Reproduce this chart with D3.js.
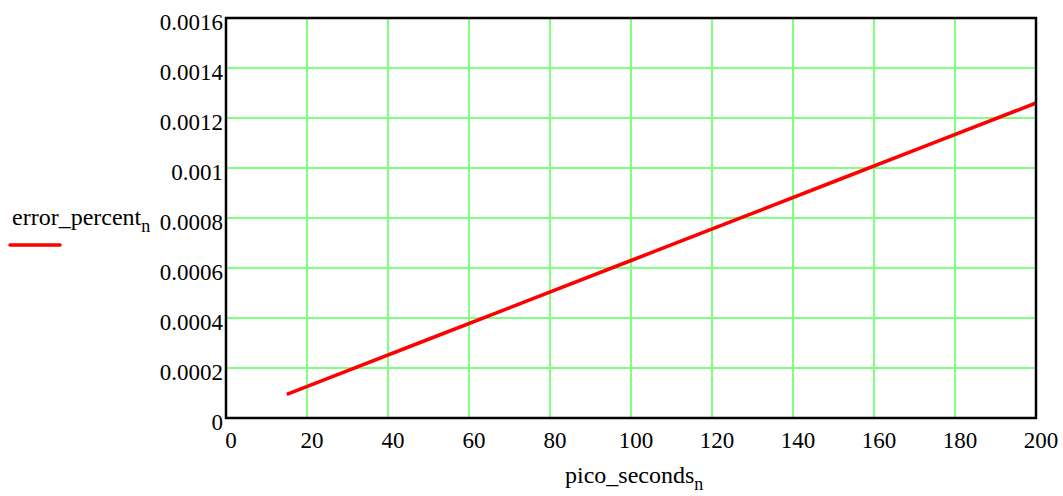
<!DOCTYPE html>
<html>
<head>
<meta charset="utf-8">
<script src="https://cdn.jsdelivr.net/npm/d3@7"></script>
<style>
  body { margin: 0; background: #fff; }
  svg text { font-family: "Liberation Serif", "Times New Roman", serif; fill: #000; }
</style>
</head>
<body>
<div id="chart"></div>
<script>
// values
const picoSeconds = [15, 25, 50, 75, 100, 125, 150, 175, 200];
const errorPercent = [0.0000945, 0.0001575, 0.000315, 0.0004725, 0.00063, 0.0007875, 0.000945, 0.0011025, 0.00126];
const xTicks = [0, 20, 40, 60, 80, 100, 120, 140, 160, 180, 200];
const yTicks = [0, 0.0002, 0.0004, 0.0006, 0.0008, 0.001, 0.0012, 0.0014, 0.0016];
const yTickLabels = ["0", "0.0002", "0.0004", "0.0006", "0.0008", "0.001", "0.0012", "0.0014", "0.0016"];

const width = 1063, height = 496;
const margin = {top: 18, right: 27, bottom: 78, left: 226};

const svg = d3.select("#chart").append("svg")
  .attr("width", width)
  .attr("height", height);

const x = d3.scaleLinear()
  .domain([0, 200])
  .range([margin.left, width - margin.right]);

const y = d3.scaleLinear()
  .domain([0, 0.0016])
  .range([height - margin.bottom, margin.top]);

// grid
svg.append("g")
  .selectAll("line.vx")
  .data(xTicks.slice(1, -1))
  .enter().append("line")
  .attr("x1", d => x(d)).attr("x2", d => x(d))
  .attr("y1", y(0)).attr("y2", y(0.0016))
  .attr("stroke", "#80ff80").attr("stroke-width", 2);

svg.append("g")
  .selectAll("line.hy")
  .data(yTicks.slice(1, -1))
  .enter().append("line")
  .attr("x1", x(0)).attr("x2", x(200))
  .attr("y1", d => y(d)).attr("y2", d => y(d))
  .attr("stroke", "#80ff80").attr("stroke-width", 2);

// series
const line = d3.line()
  .x((d, i) => x(picoSeconds[i]))
  .y(d => y(d));

svg.append("path")
  .datum(errorPercent)
  .attr("d", line)
  .attr("fill", "none")
  .attr("stroke", "#ff0000")
  .attr("stroke-width", 3.5);

// frame
svg.append("rect")
  .attr("x", x(0)).attr("y", y(0.0016))
  .attr("width", x(200) - x(0))
  .attr("height", y(0) - y(0.0016))
  .attr("fill", "none")
  .attr("stroke", "#000")
  .attr("stroke-width", 2.5);

// tick labels
svg.append("g")
  .selectAll("text")
  .data(yTicks)
  .enter().append("text")
  .attr("x", x(0) - 3)
  .attr("y", d => y(d) + 12)
  .attr("text-anchor", "end")
  .style("font-size", "23px")
  .text((d, i) => yTickLabels[i]);

svg.append("g")
  .selectAll("text")
  .data(xTicks)
  .enter().append("text")
  .attr("x", d => x(d) + 5)
  .attr("y", y(0) + 30)
  .attr("text-anchor", "middle")
  .style("font-size", "23px")
  .text(d => d);

// axis titles
const xt = svg.append("text")
  .attr("x", 565)
  .attr("y", 483)
  .style("font-size", "24px");
xt.append("tspan").text("pico_seconds");
xt.append("tspan").attr("dy", 7).style("font-size", "18px").text("n");

const yt = svg.append("text")
  .attr("x", 12)
  .attr("y", 225)
  .style("font-size", "24px");
yt.append("tspan").text("error_percent");
yt.append("tspan").attr("dy", 7).style("font-size", "18px").text("n");

// legend swatch
svg.append("line")
  .attr("x1", 10).attr("x2", 60)
  .attr("y1", 245).attr("y2", 245)
  .attr("stroke", "#ff0000")
  .attr("stroke-width", 3.5)
  .attr("stroke-linecap", "round");
</script>
</body>
</html>
